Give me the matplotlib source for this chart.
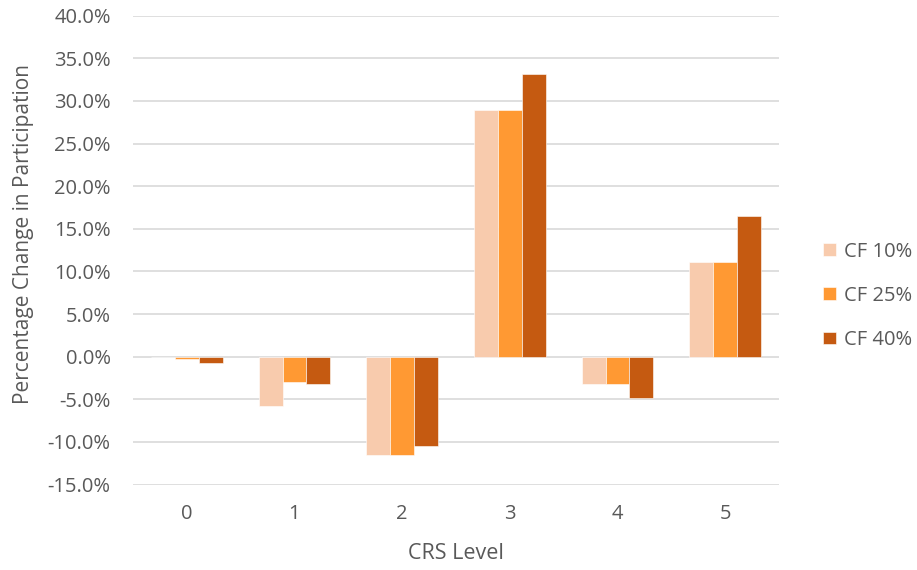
import matplotlib
matplotlib.use("Agg")
import matplotlib.pyplot as plt
from matplotlib.ticker import FuncFormatter, MultipleLocator
import numpy as np

categories = ["0", "1", "2", "3", "4", "5"]
series_names = ["CF 10%", "CF 25%", "CF 40%"]
cf10 = [0.0, -5.8, -11.5, 28.9, -3.2, 11.1]
cf25 = [-0.3, -3.0, -11.5, 28.9, -3.2, 11.1]
cf40 = [-0.8, -3.2, -10.5, 33.2, -4.9, 16.5]
colors = ["#F8CBAD", "#FF9933", "#C55A11"]

plt.rcParams['font.family'] = ['Open Sans', 'DejaVu Sans']
txt = "#595959"

fig = plt.figure(figsize=(9.17, 5.7), dpi=100)
ax = fig.add_axes([0.145, 0.150, 0.7045, 0.8225])

x = np.arange(len(categories))
w = 1 / 4.5
for i, (vals, name, c) in enumerate(zip([cf10, cf25, cf40], series_names, colors)):
    ax.bar(x + (i - 1) * w, vals, width=w, color=c, label=name,
           edgecolor="white", linewidth=0.4, zorder=3)

ax.set_xlim(-0.5, len(categories) - 0.5)
ax.set_ylim(-15, 40)
ax.yaxis.set_major_locator(MultipleLocator(5))
ax.yaxis.set_major_formatter(FuncFormatter(lambda v, p: f"{v:.1f}%"))
ax.set_xticks(x)
ax.set_xticklabels(categories)
ax.grid(axis="y", color="#D9D9D9", linewidth=1.2, zorder=0)
for s in ax.spines.values():
    s.set_visible(False)
ax.tick_params(axis="both", length=0, labelsize=14.5, colors=txt)
ax.tick_params(axis="x", pad=14)
ax.tick_params(axis="y", pad=16)

ax.set_xlabel("CRS Level", fontsize=15.5, color=txt, labelpad=14)
ax.set_ylabel("Percentage Change in Participation", fontsize=15, color=txt, labelpad=9)
ax.yaxis.set_label_coords(-0.153, 0.535)

leg = fig.legend(loc="center left", bbox_to_anchor=(0.898, 0.481), frameon=False,
                 fontsize=14.5, handlelength=0.6, handleheight=0.6,
                 labelspacing=1.2, handletextpad=0.4, borderpad=0, borderaxespad=0)
for t in leg.get_texts():
    t.set_color(txt)

fig.savefig("out.png", dpi=100)
